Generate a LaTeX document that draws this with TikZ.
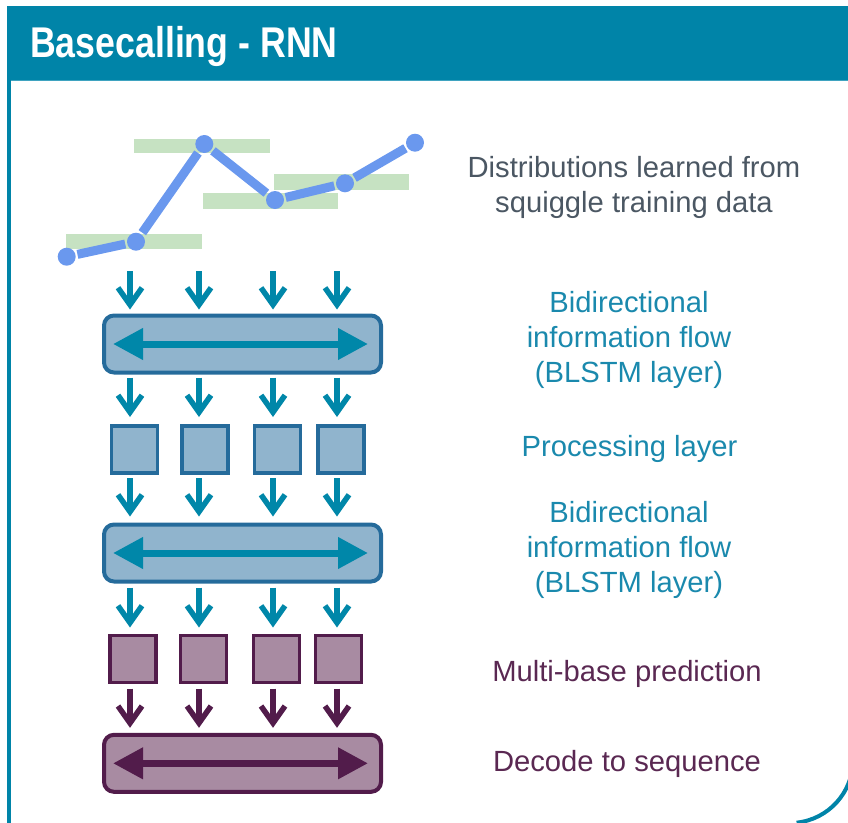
\documentclass[tikz,border=0pt]{standalone}
\usepackage{fontspec}
\usepackage{graphicx}
\setmainfont{Liberation Sans}
\usetikzlibrary{arrows.meta,calc}

\definecolor{headteal}{HTML}{0084A8}
\definecolor{headline}{HTML}{3FA3C0}
\definecolor{flowteal}{HTML}{0087A9}
\definecolor{boxblue}{HTML}{90B4CD}
\definecolor{boxblueedge}{HTML}{256B9B}
\definecolor{boxpurple}{HTML}{A88BA2}
\definecolor{purpleedge}{HTML}{521C4B}
\definecolor{txtteal}{HTML}{1A89AD}
\definecolor{txtpurple}{HTML}{5A2852}
\definecolor{txtgray}{HTML}{4B5763}
\definecolor{squigblue}{HTML}{6A98EE}
\definecolor{distgreen}{HTML}{C6E2C2}

\tikzset{
  layerbox/.style={draw=boxblueedge, fill=boxblue, line width=4pt, rounded corners=10pt,
    minimum width=277pt, minimum height=57pt, inner sep=0pt, outer sep=0pt},
  decodebox/.style={layerbox, draw=purpleedge, fill=boxpurple},
  cellblue/.style={draw=boxblueedge, fill=boxblue, line width=3.2pt,
    minimum width=46pt, minimum height=47pt, inner sep=0pt, outer sep=0pt},
  cellpurple/.style={cellblue, draw=purpleedge, fill=boxpurple},
  flow/.style={draw=flowteal, line width=5.5pt,
    -{Straight Barb[length=17pt,width=24pt,line width=5.5pt]}},
  flowpurple/.style={flow, draw=purpleedge},
  bidir/.style={draw=flowteal, line width=7pt,
    {Triangle[length=30pt,width=30pt]}-{Triangle[length=30pt,width=30pt]}},
  bidirpurple/.style={bidir, draw=purpleedge},
  dot/.style={circle, fill=squigblue, minimum size=18pt, inner sep=0pt, outer sep=2pt},
  squigline/.style={draw=squigblue, line width=9pt},
  lbl/.style={font=\fontsize{29.2}{35}\selectfont, align=center, anchor=base, inner sep=0pt},
}

\begin{document}
\begin{tikzpicture}[x=1pt, y=-1pt]
\useasboundingbox (0,0) rectangle (848,822);

% page frame: header bar, left rule and rounded lower-right corner
\begin{scope}
  \clip (0,0) rectangle (848,822);
  \fill[headteal] (7,6) rectangle (870,80);
  \draw[headline, line width=1pt] (11,80) -- (870,80);
  \draw[headteal, line width=4pt] (9,80) -- (9,830);
  \draw[headteal, line width=4pt] (853,690) -- (853,760)
     arc[start angle=0, end angle=84, radius=63];
\end{scope}

\node[anchor=base west, inner sep=0pt, text=white,
      font=\fontsize{43}{50}\selectfont\bfseries] (title) at (30,57)
      {\scalebox{0.83}[1]{Basecalling - RNN}};

% learned level distributions
\fill[distgreen] (66,234) rectangle (202,248.5);
\fill[distgreen] (134,138.5) rectangle (270,152.5);
\fill[distgreen] (203,193) rectangle (338,208.5);
\fill[distgreen] (274,174) rectangle (409,190);

% squiggle trace
\node[dot] (p1) at (66.7,256.7) {};
\node[dot] (p2) at (136,241.7) {};
\node[dot] (p3) at (204.3,144) {};
\node[dot] (p4) at (275,200) {};
\node[dot] (p5) at (345,183.3) {};
\node[dot] (p6) at (415,142.7) {};
\draw[squigline] (p1) -- (p2) -- (p3) -- (p4) -- (p5) -- (p6);

% columns
\coordinate (col1) at (130,0);
\coordinate (col2) at (199,0);
\coordinate (col3) at (273,0);
\coordinate (col4) at (337,0);
\coordinate (in1) at (130,271);
\coordinate (in2) at (199,271);
\coordinate (in3) at (273,271);
\coordinate (in4) at (337,271);

% layers
\node[layerbox] (blstm1) at (242.5,344) {};
\node[cellblue] (pc1) at (134.5,449.5) {};
\node[cellblue] (pc2) at (205,449.5) {};
\node[cellblue] (pc3) at (277.7,449.5) {};
\node[cellblue] (pc4) at (341,449.5) {};
\node[layerbox] (blstm2) at (242.5,553) {};
\node[cellpurple] (mb1) at (133,659) {};
\node[cellpurple] (mb2) at (203.5,659) {};
\node[cellpurple] (mb3) at (276.2,659) {};
\node[cellpurple] (mb4) at (338.7,659) {};
\node[decodebox] (dec) at (242.5,763.3) {};

% bidirectional arrows inside the long boxes
\draw[bidir] ($(blstm1.west)+(9,0)$) -- ($(blstm1.east)+(-13,0)$);
\draw[bidir] ($(blstm2.west)+(9,0)$) -- ($(blstm2.east)+(-13,0)$);
\draw[bidirpurple] ($(dec.west)+(9,0)$) -- ($(dec.east)+(-13,0)$);

% downward flow between layers
\foreach \c in {1,2,3,4}{
  \draw[flow, shorten >=6pt] (in\c) -- (blstm1.north -| col\c);
  \draw[flow, shorten <=5pt, shorten >=9pt] (blstm1.south -| col\c) -- (pc1.north -| col\c);
  \draw[flow, shorten <=5pt, shorten >=8pt] (pc1.south -| col\c) -- (blstm2.north -| col\c);
  \draw[flow, shorten <=6pt, shorten >=8pt] (blstm2.south -| col\c) -- (mb1.north -| col\c);
  \draw[flowpurple, shorten <=6pt, shorten >=7pt] (mb1.south -| col\c) -- (dec.north -| col\c);
}

% labels (anchored at the baseline of their last line)
\node[lbl, text=txtgray] (t1) at (634,212) {Distributions learned from\\squiggle training data};
\node[lbl, text=txtteal] (t2) at (629,382) {Bidirectional\\information flow\\(BLSTM layer)};
\node[lbl, text=txtteal] (t3) at (629.5,456.7) {Processing layer};
\node[lbl, text=txtteal] (t4) at (629,592) {Bidirectional\\information flow\\(BLSTM layer)};
\node[lbl, text=txtpurple] (t5) at (627,681.7) {Multi-base prediction};
\node[lbl, text=txtpurple] (t6) at (627,771.7) {Decode to sequence};
\end{tikzpicture}
\end{document}
